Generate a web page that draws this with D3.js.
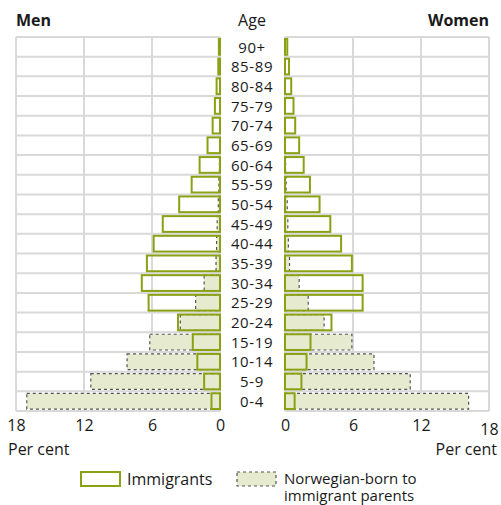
<!DOCTYPE html>
<html>
<head>
<meta charset="utf-8">
<script src="https://cdn.jsdelivr.net/npm/d3@7"></script>
<style>
  body { margin: 0; background: #fff; }
  text { font-family: "Open Sans", "Noto Sans", sans-serif; fill: #1a1a1a; }
</style>
</head>
<body>
<div id="chart"></div>
<script>
// Age groups, top to bottom
const ages = ["90+", "85-89", "80-84", "75-79", "70-74", "65-69", "60-64", "55-59", "50-54",
  "45-49", "40-44", "35-39", "30-34", "25-29", "20-24", "15-19", "10-14", "5-9", "0-4"];

// Per cent, same order as ages
const menImmigrants = [0.1, 0.15, 0.3, 0.45, 0.65, 1.1, 1.8, 2.5, 3.6, 5.05, 5.85, 6.45, 6.9, 6.3, 3.7, 2.4, 2.0, 1.4, 0.75];
const menNorBorn = [0, 0, 0, 0, 0, 0, 0.05, 0.1, 0.15, 0.25, 0.3, 0.35, 1.4, 2.15, 3.5, 6.2, 8.2, 11.4, 17.05];
const womenImmigrants = [0.2, 0.35, 0.55, 0.75, 0.9, 1.25, 1.65, 2.2, 3.05, 4.0, 4.95, 5.9, 6.85, 6.85, 4.1, 2.25, 1.9, 1.45, 0.85];
const womenNorBorn = [0, 0, 0, 0, 0, 0, 0.05, 0.1, 0.2, 0.25, 0.3, 0.4, 1.25, 2.05, 3.45, 5.9, 7.85, 11.05, 16.2];

const ticks = [0, 6, 12, 18];

const W = 501, H = 505;
const plotTop = 37, plotBottom = 411;
const green = "#8aa114";
const lightFill = "#e6ebcf";
const gridColor = "#d9d9d9";
const fs = "16px";

const svg = d3.select("#chart").append("svg")
  .attr("width", W)
  .attr("height", H);

// scales
const y = d3.scaleBand().domain(ages).range([plotTop, plotBottom]).padding(0);
const xL = d3.scaleLinear().domain([0, 18]).range([220, 16]);
const xR = d3.scaleLinear().domain([0, 18]).range([285, 489]);

const inset = y.bandwidth() * 0.1;
const barH = y.bandwidth() * 0.8;

// grid for both panels
[xL, xR].forEach(x => {
  const g = svg.append("g").attr("class", "grid");
  g.selectAll("line.h")
    .data(ages.concat(["end"]))
    .enter().append("line")
    .attr("x1", x(0)).attr("x2", x(18))
    .attr("y1", (d, i) => i < ages.length ? y(d) : plotBottom)
    .attr("y2", (d, i) => i < ages.length ? y(d) : plotBottom)
    .attr("stroke", gridColor).attr("stroke-width", 2);
  g.selectAll("line.v")
    .data(ticks)
    .enter().append("line")
    .attr("x1", d => x(d)).attr("x2", d => x(d))
    .attr("y1", plotTop).attr("y2", plotBottom)
    .attr("stroke", gridColor).attr("stroke-width", 2);
});

// bars: Norwegian-born first, immigrants outline on top
function drawBars(x, nor, imm) {
  const g = svg.append("g");
  g.selectAll(".nor")
    .data(ages)
    .enter().append("rect")
    .attr("class", "nor")
    .attr("x", (d, i) => Math.min(x(0), x(nor[i])))
    .attr("y", d => y(d) + inset)
    .attr("width", (d, i) => Math.abs(x(nor[i]) - x(0)))
    .attr("height", barH)
    .attr("fill", lightFill)
    .attr("stroke", (d, i) => nor[i] > 0 ? "#555" : "none")
    .attr("stroke-width", 1.2)
    .attr("stroke-dasharray", "3,3");
  g.selectAll(".imm")
    .data(ages)
    .enter().append("rect")
    .attr("class", "imm")
    .attr("x", (d, i) => Math.min(x(0), x(imm[i])))
    .attr("y", d => y(d) + inset)
    .attr("width", (d, i) => Math.abs(x(imm[i]) - x(0)))
    .attr("height", barH)
    .attr("fill", "none")
    .attr("stroke", green)
    .attr("stroke-width", 2);
}
drawBars(xL, menNorBorn, menImmigrants);
drawBars(xR, womenNorBorn, womenImmigrants);

// age labels (slightly smaller so rows don't collide)
svg.append("g").selectAll("text")
  .data(ages)
  .enter().append("text")
  .attr("x", 252)
  .attr("y", d => y(d) + y.bandwidth() / 2)
  .attr("dy", "0.38em")
  .attr("text-anchor", "middle")
  .style("font-size", "15px")
  .style("letter-spacing", "0.6px")
  .text(d => d);

// headings
svg.append("text").attr("x", 16).attr("y", 26)
  .style("font-size", fs).style("font-weight", "bold").text("Men");
svg.append("text").attr("x", 489).attr("y", 26).attr("text-anchor", "end")
  .style("font-size", fs).style("font-weight", "bold").text("Women");
svg.append("text").attr("x", 252).attr("y", 26).attr("text-anchor", "middle")
  .style("font-size", fs).text("Age");

// x axes
[xL, xR].forEach((x, k) => {
  const ax = svg.append("g")
    .attr("transform", `translate(0, ${plotBottom + 9})`)
    .call(d3.axisBottom(x).tickValues(ticks).tickSize(0).tickPadding(0));
  ax.select(".domain").remove();
  ax.selectAll("text")
    .style("font-size", fs)
    .style("font-family", "'Open Sans', 'Noto Sans', sans-serif")
    .attr("fill", "#1a1a1a")
    .attr("y", d => (k === 1 && d === 18) ? 4 : 0);
});

svg.append("text").attr("x", 8).attr("y", 455)
  .style("font-size", fs).text("Per cent");
svg.append("text").attr("x", 497).attr("y", 455).attr("text-anchor", "end")
  .style("font-size", fs).text("Per cent");

// legend
const leg = svg.append("g");
leg.append("rect").attr("x", 81).attr("y", 472).attr("width", 39).attr("height", 14)
  .attr("fill", "none").attr("stroke", green).attr("stroke-width", 2);
leg.append("text").attr("x", 127).attr("y", 485)
  .style("font-size", fs).text("Immigrants");
leg.append("rect").attr("x", 237).attr("y", 472).attr("width", 39).attr("height", 14)
  .attr("fill", lightFill).attr("stroke", "#555").attr("stroke-width", 1.2)
  .attr("stroke-dasharray", "3,3");
leg.append("text").attr("x", 284).attr("y", 484)
  .style("font-size", "15px").text("Norwegian-born to");
leg.append("text").attr("x", 284).attr("y", 501)
  .style("font-size", "15px").text("immigrant parents");
</script>
</body>
</html>
